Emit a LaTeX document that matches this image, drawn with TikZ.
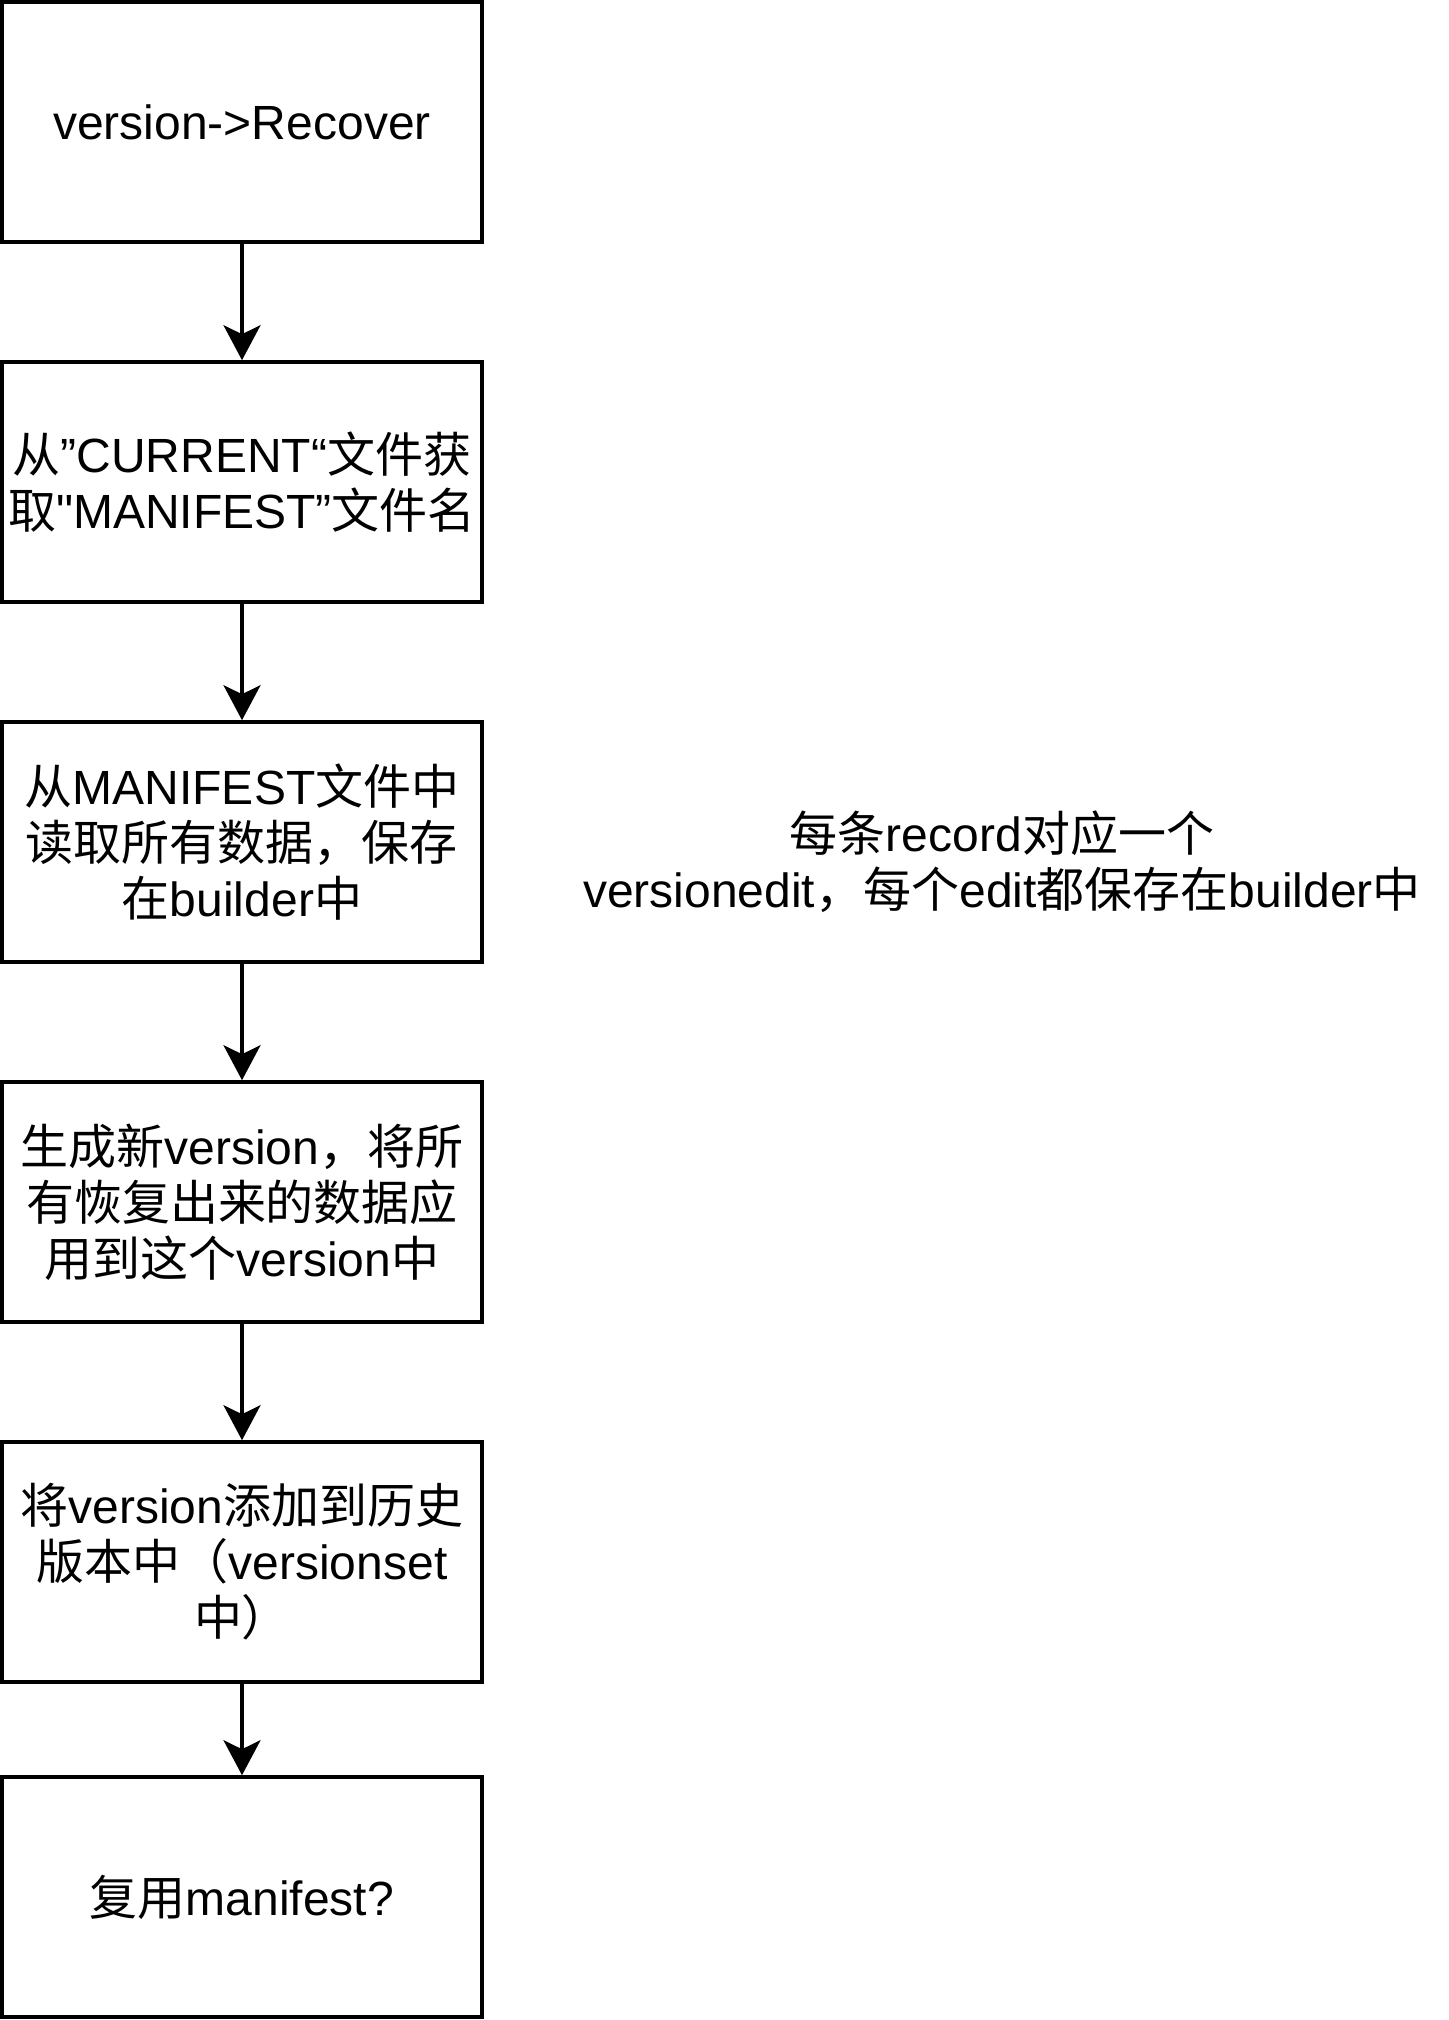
\documentclass[tikz,border=0pt]{standalone}
\usepackage{fontspec}
\setmainfont{Liberation Sans}
\newfontfamily\cjk{Noto Sans CJK SC}
\newfontfamily\plainquote{Liberation Sans}
\newcommand{\zh}[1]{{\cjk #1}}
\usepackage{tikz}
\usetikzlibrary{arrows.meta,shapes}
\tikzstyle{stepbox}=[draw,line width=1.8pt,rectangle,minimum width=240pt,minimum height=120pt,inner sep=0pt,align=center,font=\fontsize{24}{28}\selectfont]
\tikzstyle{note}=[align=center,inner sep=0pt,font=\fontsize{24}{28}\selectfont]
\tikzstyle{edge} = [draw,line width=1.8pt,-{Stealth[length=17.5pt,width=18.5pt,inset=4.5pt]}]

\begin{document}
\begin{tikzpicture}[x=1pt,y=1pt]
    \useasboundingbox (0,0) rectangle (724,-1010);
    % First we draw the steps
    \foreach \pos/\name/\txt in {
        {(121,-61)/recover/{version->Recover}},
        {(121,-241)/current/{\zh{从}”CURRENT“\zh{文件获}\\\zh{取}{\plainquote"}MANIFEST”\zh{文件名}}},
        {(121,-421)/readall/{\zh{从}MANIFEST\zh{文件中}\\\zh{读取所有数据，保存}\\\zh{在}builder\zh{中}}},
        {(121,-601)/newver/{\zh{生成新}version\zh{，将所}\\\zh{有恢复出来的数据应}\\\zh{用到这个}version\zh{中}}},
        {(121,-781)/append/{\zh{将}version\zh{添加到历史}\\\zh{版本中（}versionset\\\zh{中）}}},
        {(121,-948.5)/reuse/{\zh{复用}manifest?}}}
        \node[stepbox] (\name) at \pos {\txt};
    % The side note
    \node[note] (record) at (501,-431) {\zh{每条}record\zh{对应一个}\\versionedit\zh{，每个}edit\zh{都保存在}builder\zh{中}};
    % Connect steps with arrows
    \foreach \source/ \dest in {recover/current, current/readall, readall/newver, newver/append, append/reuse}
        \path[edge] (\source) -- (\dest) ;
\end{tikzpicture}
\end{document}
